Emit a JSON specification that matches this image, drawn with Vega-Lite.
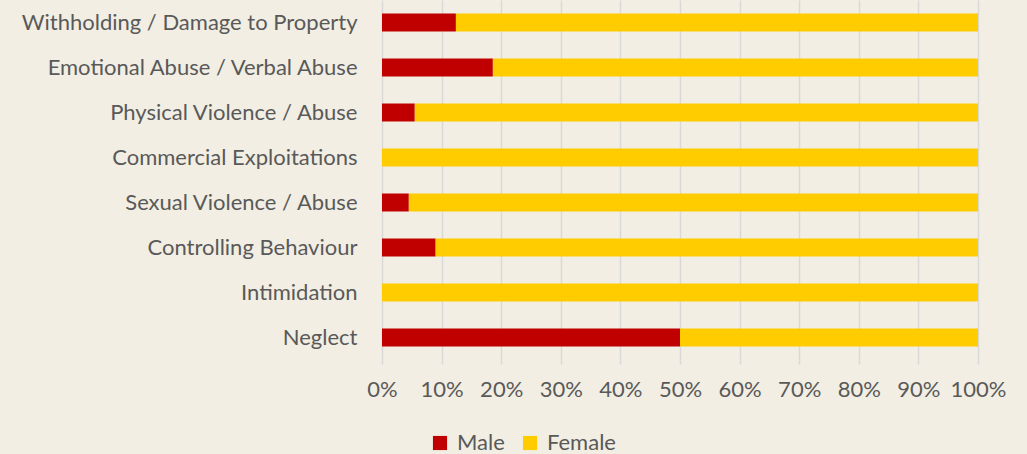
{
  "$schema": "https://vega.github.io/schema/vega-lite/v6.json",
  "width": 596,
  "height": 360,
  "autosize": {"type": "none"},
  "padding": {"left": 382, "top": 0, "right": 49, "bottom": 94},
  "background": "#F2EEE3",
  "config": {
    "view": {"stroke": null},
    "font": "Lato"
  },
  "data": {
    "values": [
      {"category": "Withholding / Damage to Property", "gender": "Male", "pct": 12.4},
      {"category": "Withholding / Damage to Property", "gender": "Female", "pct": 87.6},
      {"category": "Emotional Abuse / Verbal Abuse", "gender": "Male", "pct": 18.6},
      {"category": "Emotional Abuse / Verbal Abuse", "gender": "Female", "pct": 81.4},
      {"category": "Physical Violence / Abuse", "gender": "Male", "pct": 5.5},
      {"category": "Physical Violence / Abuse", "gender": "Female", "pct": 94.5},
      {"category": "Commercial Exploitations", "gender": "Male", "pct": 0},
      {"category": "Commercial Exploitations", "gender": "Female", "pct": 100},
      {"category": "Sexual Violence / Abuse", "gender": "Male", "pct": 4.5},
      {"category": "Sexual Violence / Abuse", "gender": "Female", "pct": 95.5},
      {"category": "Controlling Behaviour", "gender": "Male", "pct": 9},
      {"category": "Controlling Behaviour", "gender": "Female", "pct": 91},
      {"category": "Intimidation", "gender": "Male", "pct": 0},
      {"category": "Intimidation", "gender": "Female", "pct": 100},
      {"category": "Neglect", "gender": "Male", "pct": 50},
      {"category": "Neglect", "gender": "Female", "pct": 50}
    ]
  },
  "mark": {"type": "bar"},
  "encoding": {
    "y": {
      "field": "category",
      "type": "nominal",
      "sort": null,
      "scale": {"paddingInner": 0.6, "paddingOuter": 0.3},
      "axis": {
        "title": null,
        "ticks": false,
        "domain": false,
        "labelFontSize": 22,
        "labelColor": "#595959",
        "labelPadding": 25,
        "labelLimit": 400
      }
    },
    "x": {
      "field": "pct",
      "type": "quantitative",
      "stack": "normalize",
      "scale": {"domain": [0, 1], "nice": false},
      "axis": {
        "title": null,
        "format": ".0%",
        "values": [0, 0.1, 0.2, 0.3, 0.4, 0.5, 0.6, 0.7, 0.8, 0.9, 1],
        "labelOverlap": false,
        "labelFlush": false,
        "domain": false,
        "grid": true,
        "gridColor": "#D9D9D9",
        "gridWidth": 1.5,
        "tickColor": "#D9D9D9",
        "tickWidth": 1.5,
        "tickSize": 4,
        "labelFontSize": 22,
        "labelColor": "#595959",
        "labelPadding": 15
      }
    },
    "order": {"field": "gender", "sort": "descending"},
    "color": {
      "field": "gender",
      "type": "nominal",
      "scale": {"domain": ["Male", "Female"], "range": ["#C00000", "#FFCC00"]},
      "legend": {
        "title": null,
        "orient": "none",
        "direction": "horizontal",
        "legendX": 47,
        "legendY": 432,
        "symbolType": "square",
        "symbolSize": 200,
        "symbolStrokeWidth": 0,
        "symbolOpacity": 1,
        "labelFontSize": 22,
        "labelColor": "#595959",
        "columnPadding": 14,
        "labelOffset": 6
      }
    }
  }
}
